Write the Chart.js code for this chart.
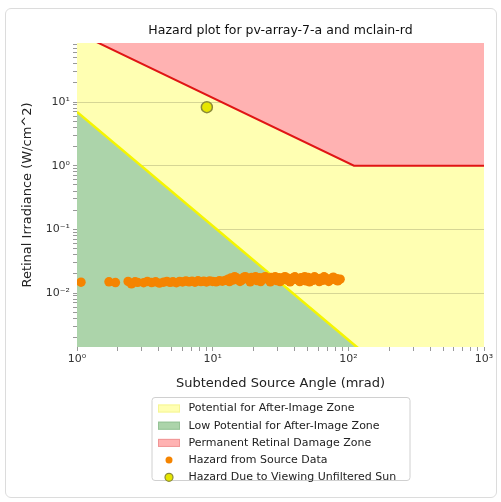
<!DOCTYPE html>
<html>
<head>
<meta charset="utf-8">
<script src="https://cdn.jsdelivr.net/npm/chart.js@4.4.1/dist/chart.umd.min.js"></script>
<style>
html, body { margin: 0; padding: 0; background: #fff; }
#wrap { position: relative; width: 501px; height: 502px; }
#frame { position: absolute; left: 5px; top: 8px; width: 490px; height: 488px; border: 1px solid #dcdcdc; border-radius: 6px; pointer-events: none; }
canvas { position: absolute; left: 0; top: 0; }
</style>
</head>
<body>
<div id="wrap">
  <canvas id="c" width="501" height="502"></canvas>
  <div id="frame"></div>
</div>
<script>
// --- data ---
const TITLE = 'Hazard plot for pv-array-7-a and mclain-rd';
const X_TITLE = 'Subtended Source Angle (mrad)';
const Y_TITLE = 'Retinal Irradiance (W/cm^2)';

const X_RANGE = [1, 1000];
const Y_RANGE = [0.00142, 84.5];
const TICK_STEPS = [1, 2, 3, 4, 5, 6, 7, 8, 9];

// permanent retinal damage threshold (red)
const RED_X = [1, 110, 1000];
const RED_Y = [123, 1, 1];

// after-image threshold (yellow)
const YEL_X = [1, 130];
const YEL_Y = [7.0, 0.00115];

// hazard from source data
const SRC_X = [1.07, 1.72, 1.92, 2.38, 2.52, 2.68, 2.8, 3.1, 3.3, 3.55, 3.8, 4.05,
  4.35, 4.6, 4.85, 5.1, 5.4, 5.7, 6.0, 6.35, 6.7, 7.05, 7.4, 7.8, 8.2, 8.6, 9.0,
  9.5, 10.0, 10.6, 11.2, 11.8, 12.4, 13.0, 13.6, 14.2, 14.9, 15.6, 16.3, 17.0,
  17.8, 18.6, 19.4, 20.3, 21.2, 22.1, 23.0, 24.0, 25.0, 26.1, 27.2, 28.4, 29.6,
  30.9, 32.2, 33.6, 35.0, 36.5, 38.0, 39.6, 41.3, 43.0, 44.8, 46.7, 48.6, 50.6,
  52.7, 54.9, 57.2, 59.6, 62.1, 64.7, 67.4, 70.2, 73.1, 76.1, 79.2, 82.4, 85.0, 87.0,
  13.3, 14.5, 15.9, 17.4, 18.9, 20.7, 22.6, 24.5, 26.6, 28.9, 31.4, 34.2, 37.2,
  40.4, 43.9, 47.7, 51.8, 56.3, 61.1, 66.2, 71.7, 77.6, 83.5];
const SRC_Y = [0.0148, 0.0150, 0.0146, 0.0152, 0.0139, 0.0150, 0.0147, 0.0145, 0.0152, 0.0146, 0.0150, 0.0143,
  0.0148, 0.0152, 0.0147, 0.0150, 0.0145, 0.0152, 0.0149, 0.0155, 0.0150, 0.0153, 0.0148, 0.0156, 0.0151, 0.0154, 0.0149,
  0.0155, 0.0152, 0.0150, 0.0156, 0.0153, 0.0158, 0.0165, 0.0172, 0.0160, 0.0175, 0.0165, 0.0158, 0.0178,
  0.0168, 0.0160, 0.0176, 0.0166, 0.0157, 0.0174, 0.0163, 0.0178, 0.0168, 0.0158, 0.0176, 0.0166, 0.0157,
  0.0174, 0.0164, 0.0178, 0.0160, 0.0170, 0.0156, 0.0176, 0.0165, 0.0158, 0.0174, 0.0164, 0.0155, 0.0176,
  0.0166, 0.0158, 0.0174, 0.0163, 0.0170, 0.0158, 0.0175, 0.0165, 0.0160, 0.0172, 0.0163, 0.0168, 0.0162, 0.0165,
  0.0151, 0.0180, 0.0152, 0.0181, 0.0150, 0.0180, 0.0151, 0.0181, 0.0150, 0.0180, 0.0151, 0.0181, 0.0150,
  0.0180, 0.0151, 0.0181, 0.0150, 0.0180, 0.0151, 0.0180, 0.0152, 0.0178, 0.0155];

// hazard due to viewing the unfiltered sun
const SUN_X = [9.06];
const SUN_Y = [8.3];

const LEGEND_LABELS = [
  'Potential for After-Image Zone',
  'Low Potential for After-Image Zone',
  'Permanent Retinal Damage Zone',
  'Hazard from Source Data',
  'Hazard Due to Viewing Unfiltered Sun'
];

// --- colours ---
const YELLOW_ZONE = 'rgb(255,255,178)';
const GREEN_ZONE = 'rgb(172,212,170)';
const RED_ZONE = 'rgb(255,178,178)';
const ORANGE = 'rgb(245,132,0)';

Chart.defaults.font.family = "'DejaVu Sans', sans-serif";

const SUP = { '0': '⁰', '1': '¹', '2': '²', '3': '³', '-': '⁻' };
function decadeLabel(v) {
  const e = Math.round(Math.log10(v));
  if (Math.abs(Math.log10(v) - e) > 1e-9) return '';
  return '10' + String(e).split('').map(c => SUP[c]).join('');
}
function logTicks(min, max) {
  const out = [];
  for (let e = Math.floor(Math.log10(min)); e <= Math.ceil(Math.log10(max)); e++) {
    for (const m of TICK_STEPS) {
      const v = m * Math.pow(10, e);
      if (v >= min * 0.999 && v <= max * 1.001) out.push({ value: v });
    }
  }
  return out;
}
const pts = (xs, ys) => xs.map((x, i) => ({ x, y: ys[i] }));

// yellow zone = whole plot background
const zoneBg = {
  id: 'zoneBg',
  beforeDraw(chart) {
    const { ctx, chartArea: a } = chart;
    ctx.save();
    ctx.fillStyle = YELLOW_ZONE;
    ctx.fillRect(a.left, a.top, a.right - a.left, a.bottom - a.top);
    ctx.restore();
  }
};

// matplotlib style legend box under the axes
const boxLegend = {
  id: 'boxLegend',
  afterDraw(chart) {
    const ctx = chart.ctx;
    const bx = 152, by = 397.5, bw = 258, bh = 83;
    ctx.save();
    ctx.beginPath();
    ctx.roundRect(bx, by, bw, bh, 3);
    ctx.fillStyle = 'rgba(255,255,255,0.85)';
    ctx.fill();
    ctx.strokeStyle = '#d0d0d0';
    ctx.lineWidth = 1;
    ctx.stroke();

    const swatches = [
      { fill: YELLOW_ZONE, edge: 'rgb(245,245,150)' },
      { fill: GREEN_ZONE, edge: 'rgb(150,195,150)' },
      { fill: RED_ZONE, edge: 'rgb(240,150,150)' },
      { dot: ORANGE, r: 3.5 },
      { dot: '#e6e600', edge: '#8a8a3a', r: 4 }
    ];
    ctx.font = "11px 'DejaVu Sans'";
    ctx.textBaseline = 'middle';
    LEGEND_LABELS.forEach((label, i) => {
      const cy = 408.5 + i * 17.2;
      const s = swatches[i];
      if (s.fill) {
        ctx.fillStyle = s.fill;
        ctx.fillRect(158, cy - 4, 22, 8);
        ctx.strokeStyle = s.edge;
        ctx.strokeRect(158.5, cy - 3.5, 21, 7);
      } else {
        ctx.beginPath();
        ctx.arc(169, cy, s.r, 0, Math.PI * 2);
        ctx.fillStyle = s.dot;
        ctx.fill();
        if (s.edge) { ctx.strokeStyle = s.edge; ctx.lineWidth = 1.2; ctx.stroke(); ctx.lineWidth = 1; }
      }
      ctx.fillStyle = '#222';
      ctx.fillText(label, 188.5, cy);
    });
    ctx.restore();
  }
};

new Chart(document.getElementById('c'), {
  type: 'scatter',
  data: {
    datasets: [
      {
        label: LEGEND_LABELS[4],
        data: pts(SUN_X, SUN_Y),
        pointRadius: 5.5,
        backgroundColor: '#e6e600',
        borderColor: '#8a8a3a',
        borderWidth: 1.5,
        order: 0
      },
      {
        label: LEGEND_LABELS[3],
        data: pts(SRC_X, SRC_Y),
        pointRadius: 4.7,
        backgroundColor: ORANGE,
        borderWidth: 0,
        order: 1
      },
      {
        type: 'line',
        label: LEGEND_LABELS[2],
        data: pts(RED_X, RED_Y),
        borderColor: '#e01515',
        borderWidth: 2,
        pointRadius: 0,
        fill: 'end',
        backgroundColor: RED_ZONE,
        clip: 0,
        order: 2
      },
      {
        type: 'line',
        label: LEGEND_LABELS[1],
        data: pts(YEL_X, YEL_Y),
        borderColor: '#f5f500',
        borderWidth: 2.5,
        pointRadius: 0,
        fill: 'start',
        backgroundColor: GREEN_ZONE,
        clip: 0,
        order: 3
      }
    ]
  },
  options: {
    responsive: false,
    animation: false,
    layout: { padding: { top: 23, right: 17, bottom: 109, left: 0 } },
    plugins: {
      legend: { display: false },
      tooltip: { enabled: false },
      title: {
        display: true,
        text: TITLE,
        fullSize: false,
        color: '#111',
        font: { size: 12.5, weight: 'normal' },
        padding: { top: 0, bottom: 5 }
      }
    },
    scales: {
      x: {
        type: 'logarithmic',
        position: 'bottom',
        min: X_RANGE[0],
        max: X_RANGE[1],
        border: { display: false },
        grid: { drawOnChartArea: false, drawTicks: true, tickLength: 4, tickColor: '#999' },
        afterBuildTicks: s => { s.ticks = logTicks(s.min, s.max); },
        afterFit: s => { s.height = 46; },
        ticks: {
          autoSkip: false, maxRotation: 0, padding: 2, color: '#333',
          font: { size: 11 },
          callback: v => decadeLabel(v)
        },
        title: {
          display: true, text: X_TITLE, color: '#222',
          font: { size: 13 }, padding: { top: 0, bottom: 2 }
        }
      },
      y: {
        type: 'logarithmic',
        min: Y_RANGE[0],
        max: Y_RANGE[1],
        z: 1,
        border: { display: false },
        grid: {
          color: c => (c.tick && decadeLabel(c.tick.value) ? 'rgba(0,0,0,0.16)' : 'rgba(0,0,0,0)'),
          drawTicks: true, tickLength: 4, tickColor: '#999'
        },
        afterBuildTicks: s => { s.ticks = logTicks(s.min, s.max); },
        afterFit: s => { s.width = 77; },
        ticks: {
          autoSkip: false, padding: 3, color: '#333',
          font: { size: 11 },
          callback: v => decadeLabel(v)
        },
        title: {
          display: true, text: Y_TITLE, color: '#222',
          font: { size: 13 }, padding: { top: 20, bottom: 0 }
        }
      }
    }
  },
  plugins: [zoneBg, boxLegend]
});
</script>
</body>
</html>
